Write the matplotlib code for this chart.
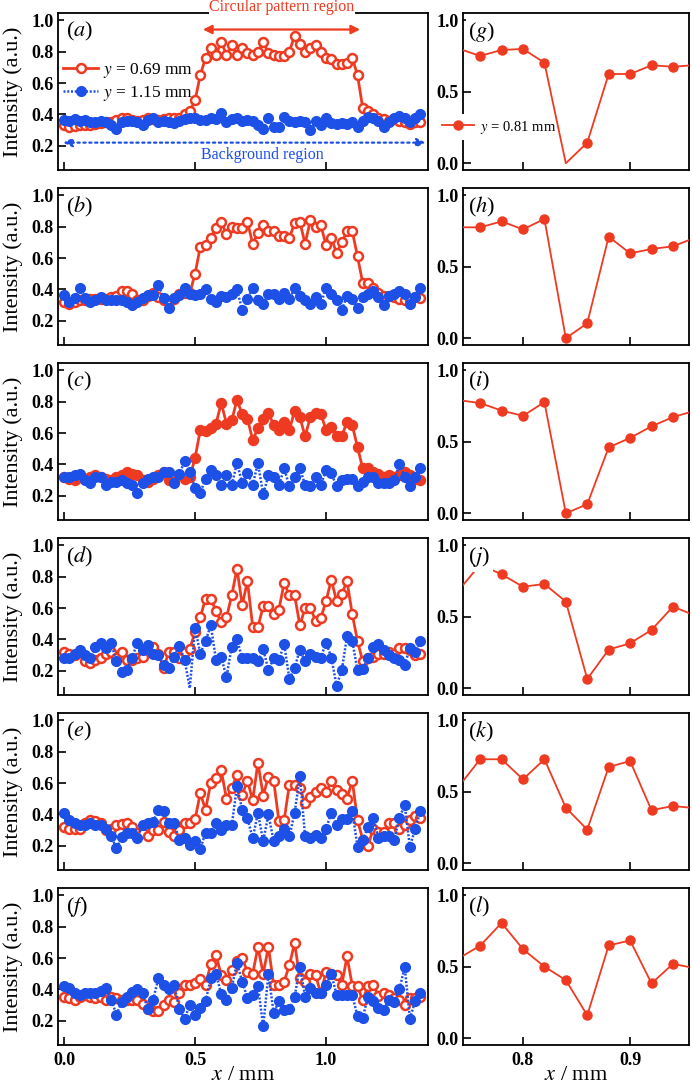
"""Intensity line profiles: circular pattern rows vs background rows."""

import matplotlib

matplotlib.use("Agg")
import matplotlib.pyplot as plt  # noqa: E402
import numpy as np  # noqa: E402

RED = "#ef3a22"
BLUE = "#1d50e6"

# left column: one sample every 0.02 mm along x
PROFILE_STEP = 0.02
PROFILE_COUNT = 69

A_RED = [0.335, 0.32, 0.325, 0.33, 0.335, 0.335, 0.34, 0.345, 0.35, 0.355, 0.365, 0.38, 0.375,
         0.365, 0.36, 0.365, 0.375, 0.37, 0.365, 0.37, 0.375, 0.38, 0.38, 0.40, 0.42,
         0.49, 0.65, 0.76, 0.82, 0.78, 0.86, 0.78, 0.84, 0.78, 0.82, 0.79, 0.78, 0.80, 0.86,
         0.79, 0.78, 0.77, 0.77, 0.80, 0.90, 0.85, 0.80, 0.82, 0.84, 0.80, 0.76, 0.75, 0.72,
         0.72, 0.73, 0.76, 0.65, 0.44, 0.42, 0.40, 0.38, 0.37, 0.36, 0.37, 0.36, 0.35, 0.34,
         0.35, 0.35]
A_BLUE = [0.365, 0.36, 0.37, 0.36, 0.365, 0.355, 0.355, 0.36, 0.35, 0.335, 0.31, 0.355, 0.36,
          0.36, 0.35, 0.335, 0.365, 0.38, 0.355, 0.36, 0.35, 0.345, 0.36, 0.37, 0.38,
          0.376, 0.365, 0.365, 0.38, 0.37, 0.41, 0.35, 0.37, 0.38, 0.36, 0.365, 0.36, 0.33,
          0.31, 0.375, 0.32, 0.32, 0.385, 0.36, 0.35, 0.36, 0.35, 0.30, 0.36, 0.33, 0.375,
          0.345, 0.34, 0.345, 0.34, 0.35, 0.32, 0.36, 0.385, 0.375, 0.36, 0.32, 0.35, 0.375,
          0.39, 0.38, 0.35, 0.38, 0.40]
B_RED = [0.32, 0.31, 0.32, 0.33, 0.33, 0.34, 0.34, 0.34, 0.34, 0.35, 0.36, 0.39, 0.39, 0.37,
         0.33, 0.33, 0.36, 0.38, 0.35, 0.33, 0.32, 0.34, 0.37, 0.38, 0.375,
         0.50, 0.67, 0.68, 0.73, 0.79, 0.83, 0.75, 0.80, 0.79, 0.79, 0.83, 0.69, 0.76, 0.81,
         0.77, 0.77, 0.74, 0.74, 0.73, 0.82, 0.83, 0.69, 0.84, 0.80, 0.81, 0.68, 0.73, 0.63,
         0.70, 0.77, 0.77, 0.61, 0.44, 0.44, 0.41, 0.38, 0.36, 0.36, 0.35, 0.34, 0.33, 0.33,
         0.35, 0.345]
B_BLUE = [0.365, 0.32, 0.345, 0.41, 0.345, 0.32, 0.335, 0.355, 0.335, 0.335, 0.335, 0.335, 0.32,
          0.30, 0.32, 0.345, 0.365, 0.365, 0.43, 0.345, 0.285, 0.345, 0.365, 0.41, 0.37,
          0.365, 0.37, 0.40, 0.34, 0.32, 0.36, 0.35, 0.37, 0.40, 0.27, 0.34, 0.41, 0.33, 0.31,
          0.37, 0.37, 0.34, 0.38, 0.34, 0.41, 0.36, 0.33, 0.31, 0.35, 0.31, 0.41, 0.37, 0.33,
          0.27, 0.36, 0.34, 0.285, 0.35, 0.37, 0.39, 0.35, 0.30, 0.36, 0.37, 0.39, 0.37, 0.31,
          0.35, 0.41]
C_RED = [0.32, 0.31, 0.30, 0.32, 0.31, 0.32, 0.33, 0.32, 0.31, 0.30, 0.32, 0.33, 0.35, 0.34,
         0.33, 0.30, 0.29, 0.31, 0.33, 0.35, 0.30, 0.29, 0.33, 0.31, 0.32,
         0.44, 0.62, 0.61, 0.63, 0.66, 0.79, 0.66, 0.68, 0.81, 0.72, 0.69, 0.556, 0.63, 0.69,
         0.73, 0.65, 0.62, 0.67, 0.62, 0.74, 0.70, 0.58, 0.70, 0.73, 0.72, 0.62, 0.64, 0.58,
         0.58, 0.67, 0.65, 0.51, 0.375, 0.375, 0.355, 0.34, 0.32, 0.33, 0.32, 0.33, 0.35, 0.33,
         0.31, 0.30]
C_BLUE = [0.32, 0.32, 0.33, 0.34, 0.30, 0.28, 0.32, 0.32, 0.27, 0.29, 0.29, 0.30, 0.28, 0.27,
          0.22, 0.28, 0.31, 0.32, 0.32, 0.35, 0.35, 0.28, 0.34, 0.42, 0.355,
          0.25, 0.22, 0.31, 0.365, 0.33, 0.27, 0.33, 0.27, 0.41, 0.28, 0.345, 0.27, 0.41, 0.21,
          0.33, 0.32, 0.27, 0.375, 0.26, 0.32, 0.375, 0.27, 0.26, 0.32, 0.27, 0.365, 0.345,
          0.26, 0.30, 0.31, 0.31, 0.26, 0.29, 0.32, 0.32, 0.28, 0.28, 0.28, 0.30, 0.40, 0.32,
          0.26, 0.32, 0.38]
D_RED = [0.32, 0.31, 0.30, 0.32, 0.26, 0.25, 0.27, 0.28, 0.31, 0.32, 0.28, 0.32, 0.27, 0.27,
         0.28, 0.29, 0.33, 0.355, 0.31, 0.22, 0.32, 0.32, 0.28, 0.32, 0.34,
         0.45, 0.54, 0.66, 0.66, 0.58, 0.51, 0.54, 0.68, 0.85, 0.62, 0.77, 0.48, 0.48, 0.61,
         0.61, 0.56, 0.59, 0.76, 0.68, 0.68, 0.49, 0.60, 0.60, 0.52, 0.535, 0.645, 0.78, 0.645,
         0.69, 0.77, 0.56, 0.39, 0.26, 0.28, 0.29, 0.31, 0.31, 0.32, 0.31, 0.345, 0.345, 0.33,
         0.30, 0.31]
D_BLUE = [0.285, 0.285, 0.31, 0.33, 0.30, 0.28, 0.355, 0.375, 0.345, 0.375, 0.26, 0.195, 0.205,
          0.285, 0.38, 0.335, 0.365, 0.31, 0.30, 0.24, 0.22, 0.29, 0.36, 0.27, 0.09,
          0.475, 0.31, 0.39, 0.49, 0.27, 0.29, 0.16, 0.355, 0.40, 0.28, 0.28, 0.28, 0.26, 0.34,
          0.205, 0.28, 0.27, 0.37, 0.15, 0.22, 0.335, 0.26, 0.31, 0.29, 0.285, 0.38, 0.285,
          0.107, 0.205, 0.42, 0.39, 0.205, 0.215, 0.285, 0.355, 0.37, 0.33, 0.30, 0.285, 0.27,
          0.24, 0.345, 0.32, 0.39]
E_RED = [0.32, 0.31, 0.305, 0.305, 0.345, 0.365, 0.36, 0.345, 0.30, 0.31, 0.335, 0.34, 0.345,
         0.32, 0.285, 0.28, 0.265, 0.30, 0.30, 0.35, 0.29, 0.265, 0.30, 0.345, 0.345,
         0.37, 0.535, 0.43, 0.60, 0.63, 0.68, 0.50, 0.57, 0.65, 0.525, 0.615, 0.49, 0.73, 0.52,
         0.64, 0.615, 0.36, 0.365, 0.59, 0.59, 0.57, 0.47, 0.51, 0.545, 0.57, 0.54, 0.61,
         0.555, 0.53, 0.50, 0.615, 0.365, 0.24, 0.20, 0.31, 0.29, 0.29, 0.345, 0.345, 0.31,
         0.335, 0.365, 0.39, 0.375]
E_BLUE = [0.41, 0.365, 0.345, 0.335, 0.335, 0.345, 0.335, 0.335, 0.31, 0.26, 0.185, 0.255, 0.28,
          0.285, 0.25, 0.335, 0.345, 0.355, 0.43, 0.42, 0.345, 0.345, 0.24, 0.25, 0.205,
          0.23, 0.18, 0.285, 0.285, 0.345, 0.30, 0.33, 0.33, 0.58, 0.43, 0.375, 0.25, 0.41,
          0.23, 0.40, 0.23, 0.26, 0.31, 0.26, 0.41, 0.645, 0.26, 0.25, 0.27, 0.25, 0.31, 0.41,
          0.335, 0.37, 0.37, 0.42, 0.195, 0.235, 0.32, 0.375, 0.25, 0.26, 0.265, 0.24, 0.38,
          0.46, 0.195, 0.31, 0.42]
F_RED = [0.355, 0.345, 0.33, 0.35, 0.365, 0.355, 0.345, 0.35, 0.335, 0.35, 0.345, 0.33, 0.33,
         0.335, 0.33, 0.31, 0.275, 0.265, 0.265, 0.30, 0.33, 0.32, 0.375, 0.43, 0.43,
         0.44, 0.465, 0.43, 0.56, 0.62, 0.49, 0.46, 0.525, 0.58, 0.60, 0.51, 0.50, 0.67, 0.50,
         0.67, 0.43, 0.43, 0.45, 0.555, 0.695, 0.47, 0.45, 0.50, 0.49, 0.375, 0.51, 0.50, 0.49,
         0.43, 0.61, 0.425, 0.42, 0.33, 0.425, 0.43, 0.36, 0.38, 0.365, 0.345, 0.335, 0.30,
         0.345, 0.345, 0.355]
F_BLUE = [0.425, 0.41, 0.38, 0.365, 0.375, 0.375, 0.38, 0.39, 0.41, 0.335, 0.24, 0.32, 0.355,
          0.385, 0.40, 0.375, 0.275, 0.335, 0.47, 0.43, 0.40, 0.43, 0.275, 0.215, 0.30,
          0.235, 0.285, 0.325, 0.47, 0.50, 0.37, 0.33, 0.41, 0.57, 0.45, 0.345, 0.365, 0.425,
          0.165, 0.50, 0.25, 0.325, 0.27, 0.275, 0.355, 0.545, 0.355, 0.41, 0.375, 0.375, 0.43,
          0.50, 0.365, 0.365, 0.365, 0.365, 0.23, 0.22, 0.355, 0.325, 0.285, 0.27, 0.335, 0.32,
          0.40, 0.545, 0.215, 0.325, 0.375]

LEFT_PANELS = ["a", "b", "c", "d", "e", "f"]
LEFT_RED = [A_RED, B_RED, C_RED, D_RED, E_RED, F_RED]
LEFT_BLUE = [A_BLUE, B_BLUE, C_BLUE, D_BLUE, E_BLUE, F_BLUE]
FILLED_RED_PANELS = ["c"]
HIDDEN_BLUE_MARKERS = {"d": [24]}

# right column: y = 0.81 mm row, sampled every 0.02 mm (end points run off the axes)
RIGHT_X = [0.74, 0.76, 0.78, 0.80, 0.82, 0.84, 0.86, 0.88, 0.90, 0.92, 0.94, 0.96]
G_VALUES = [0.80, 0.749, 0.791, 0.798, 0.702, 0.0, 0.144, 0.623, 0.623, 0.684, 0.674, 0.685]
H_VALUES = [0.775, 0.774, 0.816, 0.760, 0.833, 0.0, 0.105, 0.709, 0.593, 0.623, 0.642, 0.70]
I_VALUES = [0.79, 0.769, 0.717, 0.680, 0.776, 0.0, 0.063, 0.460, 0.526, 0.607, 0.671, 0.715]
J_VALUES = [0.684, 0.864, 0.795, 0.709, 0.728, 0.605, 0.065, 0.27, 0.314, 0.407, 0.570, 0.51]
K_VALUES = [0.536, 0.726, 0.726, 0.586, 0.726, 0.388, 0.235, 0.672, 0.714, 0.370, 0.400, 0.385]
L_VALUES = [0.558, 0.646, 0.805, 0.622, 0.500, 0.406, 0.160, 0.648, 0.683, 0.383, 0.519, 0.49]

RIGHT_PANELS = ["g", "h", "i", "j", "k", "l"]
RIGHT_VALUES = [G_VALUES, H_VALUES, I_VALUES, J_VALUES, K_VALUES, L_VALUES]
HIDDEN_RIGHT_MARKERS = {"g": [5]}

LEFT_XTICKS = [0.0, 0.5, 1.0]
LEFT_YTICKS = [0.2, 0.4, 0.6, 0.8, 1.0]
RIGHT_XTICKS = [0.8, 0.9]
RIGHT_YTICKS = [0.0, 0.5, 1.0]

FIG_W, FIG_H = 692, 1087

plt.rcParams["font.family"] = "serif"
plt.rcParams["font.serif"] = ["Liberation Serif", "DejaVu Serif"]
plt.rcParams["mathtext.fontset"] = "stix"


def px_rect(left, top, width, height):
    return [left / FIG_W, 1 - (top + height) / FIG_H, width / FIG_W, height / FIG_H]


def style_axes(ax, xticks, yticks, bottom_row):
    for spine in ax.spines.values():
        spine.set_linewidth(1.3)
    ax.set_xticks(xticks)
    ax.set_yticks(yticks)
    ax.tick_params(direction="in", length=5.5, width=1.2, labelsize=13,
                   labelbottom=bottom_row)
    ax.tick_params(axis="x", pad=5)
    ax.tick_params(axis="y", pad=3)
    ax.xaxis.set_major_formatter(matplotlib.ticker.FormatStrFormatter("%.1f"))
    ax.yaxis.set_major_formatter(matplotlib.ticker.FormatStrFormatter("%.1f"))
    for label in ax.get_xticklabels() + ax.get_yticklabels():
        label.set_fontweight("bold")
    if bottom_row:
        ax.set_xlabel("$x$ / mm", fontsize=16, labelpad=-2)


def panel_label(ax, letter):
    ax.text(0.022, 0.955, f"(${letter}$)", transform=ax.transAxes, fontsize=16,
            ha="left", va="top", zorder=6,
            bbox=dict(facecolor="white", edgecolor="none", pad=1.8))


def draw_profile(ax, letter, red, blue):
    x = np.arange(PROFILE_COUNT) * PROFILE_STEP
    filled = letter in FILLED_RED_PANELS
    ax.plot(x, red, color=RED, lw=2.0, marker="o", ms=6.4,
            mfc=RED if filled else "white", mec=RED, mew=1.8,
            label="$y$ = 0.69 mm", zorder=2)
    hidden = HIDDEN_BLUE_MARKERS.get(letter, [])
    ax.plot(x, blue, color=BLUE, lw=1.8, ls=(0, (0.8, 0.7)), marker="o", ms=7,
            mfc=BLUE, mec=BLUE,
            markevery=[i for i in range(len(blue)) if i not in hidden],
            label="$y$ = 1.15 mm", zorder=3)
    ax.set_xlim(-0.023, 1.389)
    ax.set_ylim(0.047, 1.045)
    ax.set_ylabel("Intensity (a.u.)", fontsize=16, labelpad=6)
    panel_label(ax, letter)


def draw_cut(ax, letter, values):
    hidden = HIDDEN_RIGHT_MARKERS.get(letter, [])
    ax.plot(RIGHT_X, values, color=RED, lw=1.3, marker="o", ms=6.5,
            mfc=RED, mec=RED,
            markevery=[i for i in range(1, len(values) - 1) if i not in hidden],
            label="$y$ = 0.81 mm", zorder=3)
    ax.set_xlim(0.744, 0.955)
    ax.set_ylim(-0.047, 1.049)
    panel_label(ax, letter)


def annotate_regions(ax):
    ax.annotate("", xy=(1.13, 0.94), xytext=(0.53, 0.94),
                arrowprops=dict(arrowstyle="<|-|>", color=RED, lw=1.6,
                                mutation_scale=13, shrinkA=0, shrinkB=0))
    ax.text(0.832, 1.084, "Circular pattern region", color=RED, fontsize=11.5,
            ha="center", va="center", clip_on=False, zorder=6,
            bbox=dict(facecolor="white", edgecolor="none", pad=0.6))
    ax.annotate("", xy=(1.38, 0.221), xytext=(-0.003, 0.221),
                arrowprops=dict(arrowstyle="<|-|>", color=BLUE, lw=1.6, ls=":",
                                mutation_scale=13, shrinkA=0, shrinkB=0))
    ax.text(0.757, 0.143, "Background region", color=BLUE, fontsize=11.5,
            ha="center", va="center")


fig = plt.figure(figsize=(FIG_W / 100, FIG_H / 100), dpi=100)

for row in range(6):
    top = 13 + 175 * row
    bottom_row = row == 5

    ax_left = fig.add_axes(px_rect(58, top, 370, 157))
    draw_profile(ax_left, LEFT_PANELS[row], LEFT_RED[row], LEFT_BLUE[row])
    style_axes(ax_left, LEFT_XTICKS, LEFT_YTICKS, bottom_row)
    if row == 0:
        annotate_regions(ax_left)
        ax_left.legend(loc="upper left", bbox_to_anchor=(0.005, 0.715), frameon=False,
                       fontsize=12.5, handlelength=2.0, handletextpad=0.3,
                       labelspacing=0.2, borderaxespad=0, borderpad=0.2, numpoints=1)

    ax_right = fig.add_axes(px_rect(463, top, 226, 157))
    draw_cut(ax_right, RIGHT_PANELS[row], RIGHT_VALUES[row])
    style_axes(ax_right, RIGHT_XTICKS, RIGHT_YTICKS, bottom_row)
    if row == 0:
        leg = ax_right.legend(loc="center left",
                              bbox_to_anchor=(438 / FIG_W, 1 - 127 / FIG_H),
                              bbox_transform=fig.transFigure, fontsize=10.5,
                              handlelength=2.2, handletextpad=0.4, borderaxespad=0,
                              borderpad=0.3, frameon=True, facecolor="white",
                              edgecolor="none", framealpha=1, fancybox=False,
                              numpoints=1)
        leg.set_zorder(2.8)

fig.savefig("out.png", dpi=100)
